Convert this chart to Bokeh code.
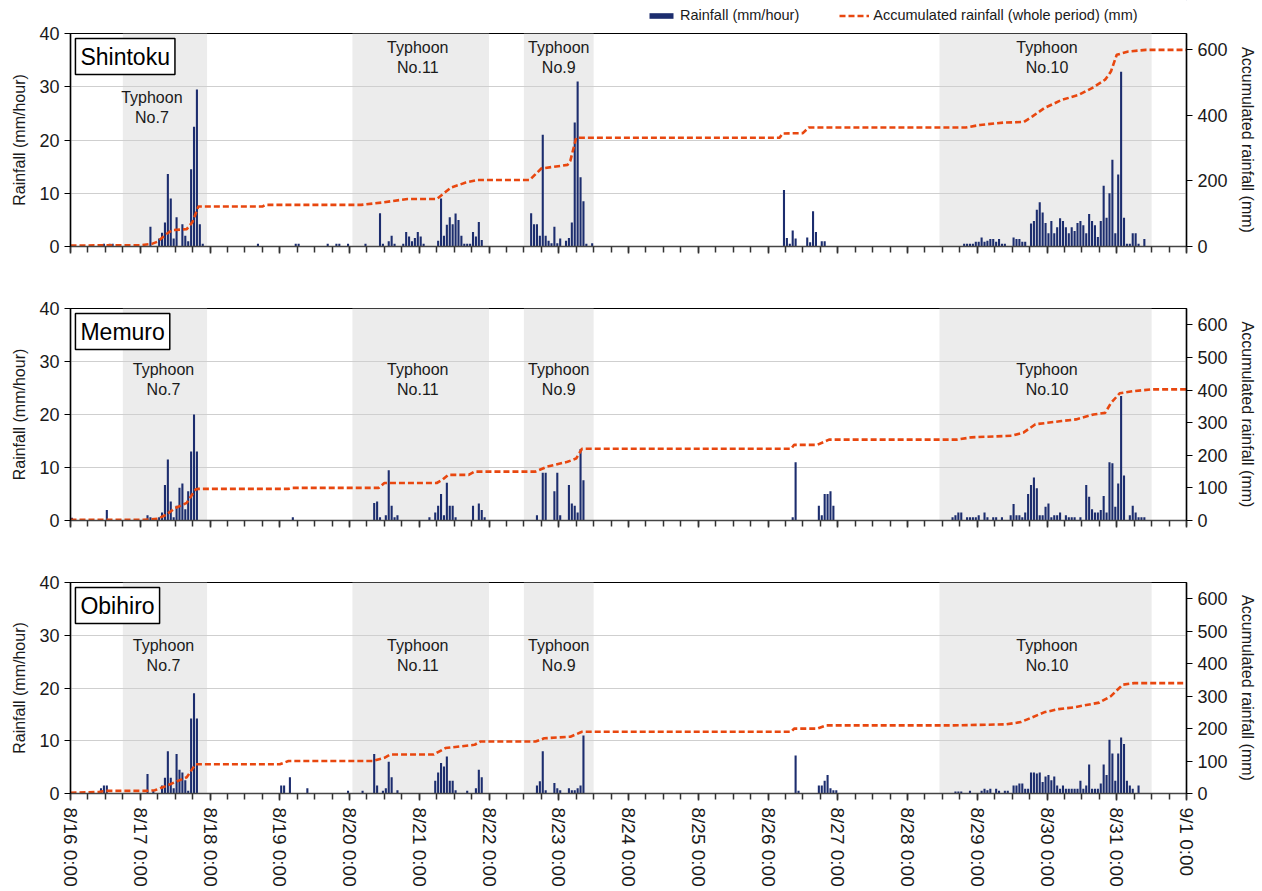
from bokeh.plotting import figure
from bokeh.models import Range1d, LinearAxis, FixedTicker, Legend, LegendItem, Label, ColumnDataSource
from bokeh.layouts import column
from bokeh.embed import file_html
from bokeh.resources import INLINE
from bokeh.core.properties import value

FONT = "Liberation Sans"
TXT = "#1a1a1a"
BAR = "#1c2d6e"
ACC = "#e8470f"
SHADE = "#ececec"

# ---------------- data ----------------
day_labels = ["8/16 0:00", "8/17 0:00", "8/18 0:00", "8/19 0:00", "8/20 0:00", "8/21 0:00",
              "8/22 0:00", "8/23 0:00", "8/24 0:00", "8/25 0:00", "8/26 0:00", "8/27 0:00",
              "8/28 0:00", "8/29 0:00", "8/30 0:00", "8/31 0:00", "9/1 0:00"]

stations = ["Shintoku", "Memuro", "Obihiro"]
series_names = ["Rainfall (mm/hour)", "Accumulated rainfall (whole period) (mm)"]

typhoon_title = ["Typhoon", "Typhoon", "Typhoon", "Typhoon"]
typhoon_names = ["No.7", "No.11", "No.9", "No.10"]
typhoon_start_hr = [18, 97, 156, 299]   # hours after 8/16 0:00
typhoon_end_hr = [47, 144, 180, 372]

# hourly rainfall (hour index after 8/16 0:00, mm/hour)
shintoku_rain_hr = [11, 13, 14,
                    27, 30, 31, 32, 33, 34, 35, 36, 38, 39, 40, 41, 42, 43, 44, 45,
                    64, 77, 78, 88, 91, 92, 95, 101,
                    106, 107, 109, 110, 111, 114, 115, 116, 117, 118, 119, 120, 121,
                    126, 127, 128, 129, 130, 131, 132, 133, 134, 135, 136, 137, 138, 139, 140, 141,
                    158, 159, 160, 161, 162, 163, 164, 165, 166, 167, 168, 170, 171, 172, 173, 174,
                    175, 176, 177, 179,
                    245, 246, 247, 248, 249, 253, 254, 255, 256, 258, 259,
                    307, 308, 309, 310, 311, 312, 313, 314, 315, 316, 317, 318, 319, 320, 321,
                    324, 325, 326, 327, 328, 330, 331, 332, 333, 334, 335, 336, 337, 338, 339,
                    340, 341, 342, 343, 344, 345, 346, 347, 348, 349, 350, 351, 352, 353, 354,
                    355, 356, 357, 358, 359, 360, 361, 362, 363, 364, 365, 366, 367, 369]
shintoku_rain_mm = [0.5, 0.5, 0.5,
                    3.7, 1.5, 2.6, 4.5, 13.6, 9.0, 1.5, 5.5, 4.2, 2.0, 1.0, 14.5, 22.5, 29.5, 4.2, 0.5,
                    0.5, 0.5, 0.5, 0.5, 0.5, 0.5, 0.5, 0.5,
                    6.25, 0.5, 1.0, 2.0, 0.5, 0.5, 2.7, 1.9, 1.0, 1.6, 2.7, 1.9, 0.5,
                    1.1, 9.0, 2.0, 4.1, 5.5, 4.2, 6.2, 5.0, 2.0, 0.5, 0.5, 0.5, 2.7, 1.9, 4.6, 1.2,
                    6.25, 4.2, 4.2, 2.0, 21.0, 2.0, 1.1, 0.6, 3.7, 0.6, 1.5, 1.1, 1.6, 4.5, 23.3, 31.0,
                    13.0, 8.5, 0.5, 0.6,
                    10.6, 1.6, 0.5, 3.0, 1.5, 1.7, 0.8, 6.6, 2.7, 1.0, 1.0,
                    0.5, 0.5, 0.5, 0.5, 0.9, 0.9, 1.7, 0.9, 1.1, 1.4, 1.4, 0.9, 1.4, 0.5, 0.5,
                    1.7, 1.4, 1.4, 0.9, 0.9, 4.3, 4.8, 6.9, 8.3, 6.4, 4.4, 2.5, 4.8, 2.5, 3.6,
                    5.3, 4.8, 3.6, 2.5, 3.6, 2.9, 4.4, 4.8, 4.0, 2.5, 6.1, 4.8, 4.0, 1.8, 4.8,
                    11.4, 5.4, 10.0, 16.3, 2.5, 13.5, 32.8, 5.4, 0.5, 0.5, 2.5, 2.5, 0.5, 1.4]

memuro_rain_hr = [0, 12,
                  26, 27, 30, 31, 32, 33, 34, 35, 36, 37, 38, 39, 40, 41, 42, 43,
                  76,
                  104, 105, 106, 108, 109, 110, 111, 112,
                  123, 125, 126, 127, 128, 129, 130, 131, 132, 138, 140, 141, 142,
                  160, 162, 163, 166, 167, 168, 171, 172, 173, 174, 175, 176,
                  248, 249, 257, 258, 259, 260, 261, 262,
                  303, 304, 305, 306, 308, 309, 310, 311, 312, 314, 315, 317, 318, 320, 323,
                  324, 325, 326, 327, 328, 329, 330, 331, 332, 333, 334, 335, 336, 337, 338,
                  339, 340, 342, 343, 344, 345, 347, 349, 350, 351, 352, 353, 354, 355, 356,
                  357, 358, 359, 360, 361, 362, 364, 365, 366, 367, 368, 369]
memuro_rain_mm = [0.5, 2.0,
                  1.0, 0.6, 0.6, 1.5, 6.7, 11.5, 3.6, 0.6, 2.8, 6.2, 7.0, 2.1, 5.5, 13.0, 20.0, 13.0,
                  0.6,
                  3.3, 3.6, 0.6, 1.0, 9.5, 2.8, 0.6, 1.0,
                  0.6, 1.5, 2.8, 5.0, 1.0, 7.1, 2.8, 2.8, 0.6, 2.8, 3.2, 2.0, 0.6,
                  1.0, 9.0, 9.0, 5.5, 9.0, 1.0, 6.7, 3.2, 2.8, 1.5, 13.5, 7.6,
                  0.6, 11.0, 2.8, 1.0, 5.0, 5.0, 5.5, 2.8,
                  0.6, 1.0, 1.5, 1.5, 0.6, 0.6, 0.6, 0.6, 1.0, 1.5, 0.6, 0.6, 0.6, 0.6, 1.0,
                  3.1, 1.0, 1.0, 0.6, 1.5, 5.0, 6.7, 8.1, 6.1, 1.0, 1.0, 2.6, 3.2, 0.6, 1.0,
                  1.0, 1.5, 1.0, 0.6, 0.6, 0.6, 0.6, 6.7, 4.5, 2.1, 1.5, 1.5, 2.0, 4.6, 1.5,
                  11.0, 10.8, 2.6, 7.0, 23.5, 8.5, 1.0, 2.8, 1.5, 0.6, 0.6, 0.6]

obihiro_rain_hr = [4, 10, 11, 12,
                   26, 28, 31, 32, 33, 34, 35, 36, 37, 38, 39, 40, 41, 42, 43,
                   72, 73, 75, 81, 95, 100,
                   104, 105, 107, 108, 109, 110, 112,
                   125, 126, 127, 128, 129, 130, 131, 132, 136, 139, 140, 141,
                   160, 161, 162, 163, 166, 167, 168, 171, 172, 173, 174, 175, 176,
                   249, 250, 257, 258, 259, 260, 261, 262, 263,
                   304, 305, 306, 309, 313, 314, 315, 316, 318, 319, 321, 322, 324, 325, 326,
                   327, 328, 329, 330, 331, 332, 333, 334, 335, 336, 337, 338, 339, 340, 341,
                   342, 343, 344, 345, 346, 347, 348, 349, 350, 351, 352, 353, 354, 355, 356,
                   357, 358, 359, 360, 361, 362, 363, 364, 365, 367]
obihiro_rain_mm = [0.3, 1.0, 1.5, 1.5,
                   3.7, 0.5, 1.5, 3.0, 8.0, 3.0, 1.0, 7.5, 4.5, 4.0, 2.5, 0.5, 14.2, 19.0, 14.2,
                   1.5, 1.5, 3.1, 1.0, 0.5, 0.5,
                   7.5, 1.5, 0.5, 1.0, 6.0, 3.1, 0.6,
                   2.4, 4.0, 5.8, 5.1, 7.0, 2.4, 2.4, 0.6, 0.5, 1.0, 4.5, 3.1,
                   1.5, 2.3, 8.0, 0.6, 2.0, 1.0, 0.6, 1.0, 0.6, 0.6, 1.0, 1.5, 11.0,
                   7.2, 0.5, 1.5, 1.5, 2.4, 3.5, 1.0, 0.6, 0.6,
                   0.4, 0.4, 0.4, 0.5, 0.5, 0.9, 0.6, 0.9, 0.9, 0.5, 0.5, 0.5, 1.5, 1.5, 1.9,
                   1.9, 0.9, 0.9, 4.0, 4.0, 3.8, 4.0, 2.2, 3.2, 3.5, 2.5, 3.2, 1.5, 0.9, 1.5,
                   0.9, 0.9, 0.9, 0.9, 0.9, 2.4, 0.9, 1.5, 5.5, 0.9, 0.9, 0.9, 1.9, 5.5, 3.5,
                   10.2, 7.6, 2.4, 7.6, 10.6, 9.4, 2.4, 1.5, 0.9, 1.5]

# accumulated rainfall over the whole period (breakpoints)
shintoku_acc_hr = [0, 24, 28, 30, 33, 35, 40, 42, 44, 66, 67, 100, 107, 116, 126, 131, 136, 140,
                   158, 162, 171, 172, 174, 244, 245, 252, 254, 308, 313, 321, 328, 331, 335,
                   341, 347, 352, 356, 358, 360, 364, 370, 384]
shintoku_acc_mm = [3, 4, 8, 15, 38, 50, 53, 75, 122, 122, 127, 127, 134, 145, 145, 180, 195, 203,
                   203, 238, 249, 262, 332, 332, 345, 346, 363, 363, 371, 378, 380, 397, 422,
                   447, 463, 486, 509, 534, 585, 595, 600, 600]
memuro_acc_hr = [0, 25, 30, 33, 36, 40, 43, 44, 75, 76, 106, 108, 126, 128, 130, 137, 139, 160,
                 164, 171, 174, 176, 248, 249, 257, 261, 305, 310, 324, 328, 332, 341, 346, 352,
                 356, 358, 361, 366, 372, 384]
memuro_acc_mm = [2, 2, 5, 18, 38, 54, 95, 97, 97, 100, 100, 115, 115, 125, 140, 140, 150, 150,
                 165, 180, 190, 220, 220, 232, 232, 248, 248, 255, 260, 270, 295, 305, 310, 325,
                 330, 360, 390, 397, 402, 402]
obihiro_acc_hr = [0, 10, 12, 26, 29, 32, 36, 40, 43, 72, 75, 104, 108, 110, 125, 129, 139, 141,
                  160, 163, 172, 176, 248, 249, 257, 260, 304, 322, 327, 331, 335, 340, 345, 354,
                  358, 362, 366, 384]
obihiro_acc_mm = [2, 5, 8, 8, 10, 20, 35, 50, 90, 90, 100, 100, 110, 120, 120, 140, 150, 160,
                  160, 170, 175, 190, 190, 200, 200, 210, 210, 213, 220, 235, 250, 260, 265, 280,
                  300, 335, 340, 340]

rain_hr = [shintoku_rain_hr, memuro_rain_hr, obihiro_rain_hr]
rain_mm = [shintoku_rain_mm, memuro_rain_mm, obihiro_rain_mm]
acc_hr = [shintoku_acc_hr, memuro_acc_hr, obihiro_acc_hr]
acc_mm = [shintoku_acc_mm, memuro_acc_mm, obihiro_acc_mm]
acc_ticks = [[0, 200, 400, 600], [0, 100, 200, 300, 400, 500, 600], [0, 100, 200, 300, 400, 500, 600]]

# label anchors (hour, rainfall-axis value) for the typhoon captions
label_hr = [[28, 119.5, 168, 336], [32, 119.5, 168, 336], [32, 119.5, 168, 336]]
label_y1 = [[28.0, 37.4, 37.4, 37.4], [28.5, 28.5, 28.5, 28.5], [28.1, 28.1, 28.1, 28.1]]
label_y2 = [[24.2, 33.6, 33.6, 33.6], [24.7, 24.7, 24.7, 24.7], [24.3, 24.3, 24.3, 24.3]]

HOURS = 384
day_ticks = list(range(0, HOURS + 1, 24))
six_hour_ticks = list(range(0, HOURS + 1, 6))

LEFT, FRAME_W, RIGHT = 70, 1116, 74
W = LEFT + FRAME_W + RIGHT
LEG_H = 24
borders = [(33 - LEG_H, 31), (31, 31), (31, 96)]
frames = [213, 212, 211]

BAR_STYLE = dict(fill_color=BAR, line_color=None)
LINE_STYLE = dict(line_color=ACC, line_width=2.6, line_dash="6 3")


def make_legend_fig():
    # a strip above the first panel that only carries the legend; its two
    # sample renderers sit outside the visible range so that only the keys show
    f = figure(width=W, height=LEG_H, x_range=Range1d(0, 1), y_range=Range1d(0, 1),
               min_border=0, min_border_left=LEFT, min_border_right=RIGHT,
               x_axis_location=None, y_axis_location=None,
               output_backend="svg", toolbar_location=None, tools="")
    f.outline_line_color = None
    f.grid.visible = False
    f.background_fill_color = "white"
    f.border_fill_color = "white"
    rb = f.vbar(x=[5], top=[5], bottom=[4], width=0.1, **BAR_STYLE)
    rl = f.line(x=[5, 6], y=[5, 5], **LINE_STYLE)
    leg = Legend(items=[LegendItem(label=series_names[0], renderers=[rb]),
                        LegendItem(label=series_names[1], renderers=[rl])],
                 orientation="horizontal", location=(576, 1),
                 border_line_color=None, background_fill_alpha=0,
                 label_text_font=FONT, label_text_font_size="14.5px",
                 label_text_color=TXT, glyph_width=30, glyph_height=7,
                 spacing=40, padding=2, margin=0, label_standoff=4,
                 label_height=16)
    f.add_layout(leg, "center")
    return f


def make_panel(i):
    top_b, bot_b = borders[i]
    p = figure(width=W, height=top_b + frames[i] + bot_b,
               x_range=Range1d(0, HOURS), y_range=Range1d(0, 40),
               min_border_left=LEFT, min_border_right=RIGHT,
               min_border_top=top_b, min_border_bottom=bot_b,
               output_backend="svg", toolbar_location=None, tools="")
    p.extra_y_ranges = {"acc": Range1d(0, 650)}
    p.background_fill_color = "white"
    p.border_fill_color = "white"
    p.outline_line_color = "black"
    p.outline_line_width = 1.2

    # typhoon periods
    p.quad(left=typhoon_start_hr, right=typhoon_end_hr, bottom=0, top=40,
           fill_color=SHADE, line_color=None, level="image")

    src = ColumnDataSource(dict(x=[h + 0.5 for h in rain_hr[i]], top=rain_mm[i]))
    p.vbar(x="x", top="top", bottom=0, width=0.72, source=src, **BAR_STYLE)
    p.line(x=acc_hr[i], y=acc_mm[i], y_range_name="acc", **LINE_STYLE)

    # typhoon captions
    p.text(x=label_hr[i], y=label_y1[i], text=typhoon_title, text_align="center",
           text_baseline="middle", text_font=value(FONT), text_font_size=value("16px"),
           text_color=TXT)
    p.text(x=label_hr[i], y=label_y2[i], text=typhoon_names, text_align="center",
           text_baseline="middle", text_font=value(FONT), text_font_size=value("16px"),
           text_color=TXT)

    # station box
    p.add_layout(Label(x=1.7, y=39.05, text=stations[i], text_align="left", text_baseline="top",
                       text_font=FONT, text_font_size="23px", text_color="black",
                       border_line_color="black", border_line_width=1.5,
                       background_fill_color="white", padding=5))

    # grids
    p.xgrid.grid_line_color = None
    p.ygrid.grid_line_color = "#cfcfcf"
    p.ygrid.grid_line_width = 1.2
    p.ygrid.ticker = FixedTicker(ticks=[10, 20, 30])

    # left axis
    ly = p.yaxis[0]
    ly.ticker = FixedTicker(ticks=[0, 10, 20, 30, 40])
    ly.axis_label = "Rainfall (mm/hour)"
    ly.axis_label_text_font = FONT
    ly.axis_label_text_font_size = "16px"
    ly.axis_label_text_font_style = "normal"
    ly.axis_label_text_color = TXT
    ly.axis_label_standoff = 8
    ly.major_label_text_font = FONT
    ly.major_label_text_font_size = "18px"
    ly.major_label_text_color = TXT
    ly.axis_line_color = "black"
    ly.axis_line_width = 1.5
    ly.major_tick_line_color = "black"
    ly.major_tick_in = 0
    ly.major_tick_out = 6
    ly.minor_tick_line_color = None

    # right axis
    ry = LinearAxis(y_range_name="acc", ticker=FixedTicker(ticks=acc_ticks[i]))
    ry.axis_label = "Accumulated rainfall (mm)"
    ry.axis_label_text_font = FONT
    ry.axis_label_text_font_size = "16px"
    ry.axis_label_text_font_style = "normal"
    ry.axis_label_text_color = TXT
    ry.axis_label_standoff = 8
    ry.major_label_text_font = FONT
    ry.major_label_text_font_size = "18px"
    ry.major_label_text_color = TXT
    ry.axis_line_color = "black"
    ry.axis_line_width = 1.5
    ry.major_tick_line_color = "black"
    ry.major_tick_in = 0
    ry.major_tick_out = 6
    ry.minor_tick_line_color = None
    p.add_layout(ry, "right")

    # x axis
    xa = p.xaxis[0]
    xa.ticker = FixedTicker(ticks=day_ticks, minor_ticks=six_hour_ticks)
    xa.axis_line_color = "#444444"
    xa.axis_line_width = 1.5
    xa.major_tick_line_color = "#333333"
    xa.major_tick_line_width = 1.5
    xa.major_tick_in = 0
    xa.major_tick_out = 7
    xa.minor_tick_line_color = "#333333"
    xa.minor_tick_line_width = 1.5
    xa.minor_tick_in = 0
    xa.minor_tick_out = 6
    if i == 2:
        xa.major_label_overrides = {t: lab for t, lab in zip(day_ticks, day_labels)}
        xa.major_label_orientation = "vertical"
        xa.major_label_text_font = FONT
        xa.major_label_text_font_size = "19px"
        xa.major_label_text_color = TXT
        xa.major_label_standoff = 7
    else:
        xa.major_label_overrides = {t: "" for t in day_ticks}
        xa.major_label_standoff = 0
    return p


figs = [make_legend_fig()] + [make_panel(i) for i in range(3)]
layout = column(*figs, spacing=0)
open("out.html", "w").write(file_html(layout, INLINE))
